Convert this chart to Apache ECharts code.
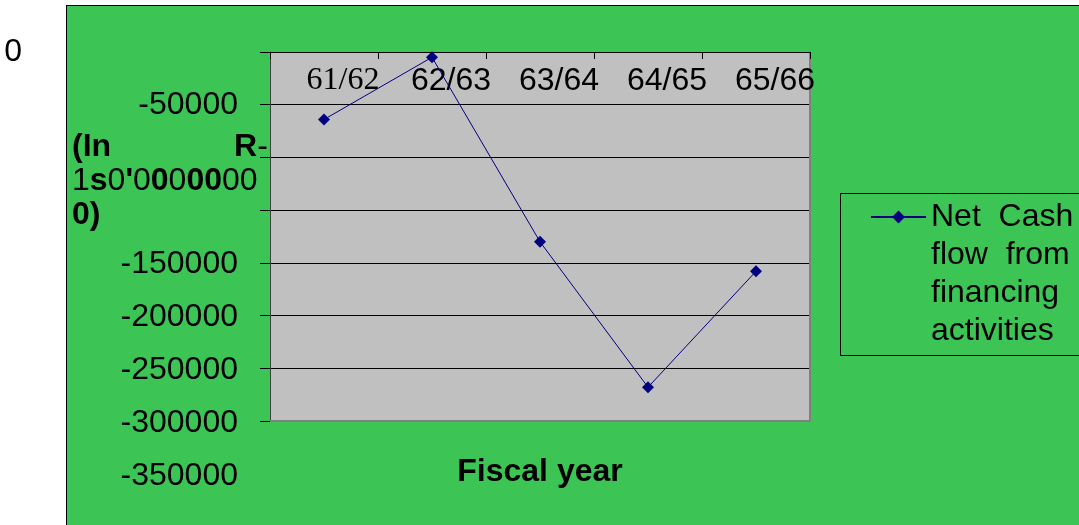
<!DOCTYPE html>
<html>
<head>
<meta charset="utf-8">
<script src="https://cdn.jsdelivr.net/npm/echarts@6/dist/echarts.min.js"></script>
<style>
  html, body { margin: 0; padding: 0; background: #ffffff; overflow: hidden; }
  #panel {
    position: absolute; left: 66px; top: 5px; width: 1013px; height: 520px;
    background: #3cc455; border-left: 1px solid #000; border-top: 1px solid #000;
  }
  #chart { position: absolute; left: 0; top: 0; width: 1079px; height: 525px; }
</style>
</head>
<body>
<div id="panel"></div>
<div id="chart"></div>
<script>
// Fiscal years on the category axis
const fiscalYears = ['61/62', '62/63', '63/64', '64/65', '65/66'];
// Net cash flow from financing activities (Rs '000)
const netCashFinancing = [-64000, -5000, -180000, -318000, -208000];
// Value-axis tick labels, top to bottom, as printed beside the axis
const valueTickLabels = ['0', '-50000', '', '', '-150000', '-200000', '-250000', '-300000', '-350000'];
const seriesName = 'Net Cash flow from financing activities';
// Legend label wrapped into four lines; leading blank lines keep the
// first line level with the legend marker
const legendLabel = '\n\n\nNet  Cash\nflow  from\nfinancing\nactivities';
const xAxisTitle = 'Fiscal year';

const SANS = '"Liberation Sans", Arial, sans-serif';
const SERIF = '"Liberation Serif", "Times New Roman", serif';

const chart = echarts.init(document.getElementById('chart'), null, { renderer: 'canvas' });

chart.setOption({
  animation: false,
  backgroundColor: 'transparent',
  textStyle: { fontFamily: SANS },
  title: {
    left: 72,
    top: 130,
    padding: 0,
    text: '{b|(In}{gap| }{b|R}{n|-}\n' +
          '{n|1}{b|s}{n|0}{b|\'}{n|0}{b|0}{n|0}{b|0}{b|0}{n|0}{n|0}\n' +
          '{b|0)}',
    textStyle: {
      rich: {
        b: { fontFamily: SANS, fontSize: 32, fontWeight: 'bold', color: '#000', lineHeight: 34 },
        n: { fontFamily: SANS, fontSize: 32, fontWeight: 'normal', color: '#000', lineHeight: 34 },
        gap: { width: 123, fontSize: 32, lineHeight: 34 }
      }
    }
  },
  legend: {
    data: [seriesName],
    left: 870,
    top: 84,
    padding: 0,
    itemWidth: 55,
    itemHeight: 16,
    itemGap: 0,
    selectedMode: false,
    formatter: function () { return legendLabel; },
    textStyle: { fontFamily: SANS, fontSize: 32, lineHeight: 38, color: '#000' }
  },
  graphic: [{
    type: 'rect',
    silent: true,
    z: -1,
    shape: { x: 840.5, y: 193.5, width: 300, height: 162 },
    style: { fill: 'none', stroke: '#000', lineWidth: 1 }
  }],
  grid: [
    { left: 270, top: 52, width: 540, height: 369, show: true, backgroundColor: '#c0c0c0', borderWidth: 0 },
    { left: 270, top: 52, width: 540, height: 424, show: false }
  ],
  xAxis: [
    {
      gridIndex: 0,
      type: 'category',
      position: 'top',
      data: fiscalYears,
      boundaryGap: true,
      axisLine: { show: true, onZero: false, lineStyle: { color: '#000', width: 1 } },
      axisTick: { show: true, inside: true, length: 7, lineStyle: { color: '#000' } },
      splitLine: { show: false },
      axisLabel: {
        inside: true,
        margin: 13,
        interval: 0,
        fontSize: 32,
        fontFamily: SANS,
        color: '#000',
        padding: [0, 0, 0, 38],
        formatter: function (v, i) { return i === 0 ? '{s|' + v + '}' : v; },
        rich: { s: { fontFamily: SERIF, fontSize: 32, color: '#000' } }
      }
    },
    {
      gridIndex: 0,
      type: 'category',
      position: 'bottom',
      data: fiscalYears,
      axisLine: { show: true, onZero: false, lineStyle: { color: '#7f7f7f', width: 2 } },
      axisTick: { show: false },
      axisLabel: { show: false },
      splitLine: { show: false },
      name: xAxisTitle,
      nameLocation: 'middle',
      nameGap: 35,
      nameTextStyle: { fontFamily: SANS, fontSize: 32, fontWeight: 'bold', color: '#000' }
    },
    { gridIndex: 1, type: 'value', show: false }
  ],
  yAxis: [
    {
      gridIndex: 0,
      type: 'value',
      min: -350000,
      max: 0,
      interval: 50000,
      axisLine: { show: true, onZero: false, lineStyle: { color: '#404040', width: 1 } },
      axisTick: { show: true, inside: false, length: 10, lineStyle: { color: '#000' } },
      splitLine: { show: true, lineStyle: { color: '#000', width: 1 } },
      axisLabel: { show: false }
    },
    {
      gridIndex: 0,
      type: 'value',
      position: 'right',
      min: -350000,
      max: 0,
      interval: 50000,
      axisLine: { show: true, onZero: false, lineStyle: { color: '#7f7f7f', width: 2 } },
      axisTick: { show: false },
      splitLine: { show: false },
      axisLabel: { show: false }
    },
    {
      gridIndex: 1,
      type: 'category',
      data: valueTickLabels,
      inverse: true,
      boundaryGap: false,
      axisLine: { show: false },
      axisTick: { show: false },
      splitLine: { show: false },
      axisLabel: {
        interval: 0,
        margin: 32,
        fontSize: 32,
        fontFamily: SANS,
        color: '#000',
        formatter: function (v, i) { return i === 0 ? '{far|' + v + '}' : v; },
        rich: { far: { fontFamily: SANS, fontSize: 32, color: '#000', padding: [0, 216, 0, 0] } }
      }
    }
  ],
  series: [{
    name: seriesName,
    type: 'line',
    xAxisIndex: 0,
    yAxisIndex: 0,
    data: netCashFinancing,
    symbol: 'diamond',
    symbolSize: 12,
    showSymbol: true,
    lineStyle: { color: '#000080', width: 1 },
    itemStyle: { color: '#000080' },
    emphasis: { disabled: true }
  }]
});
</script>
</body>
</html>
